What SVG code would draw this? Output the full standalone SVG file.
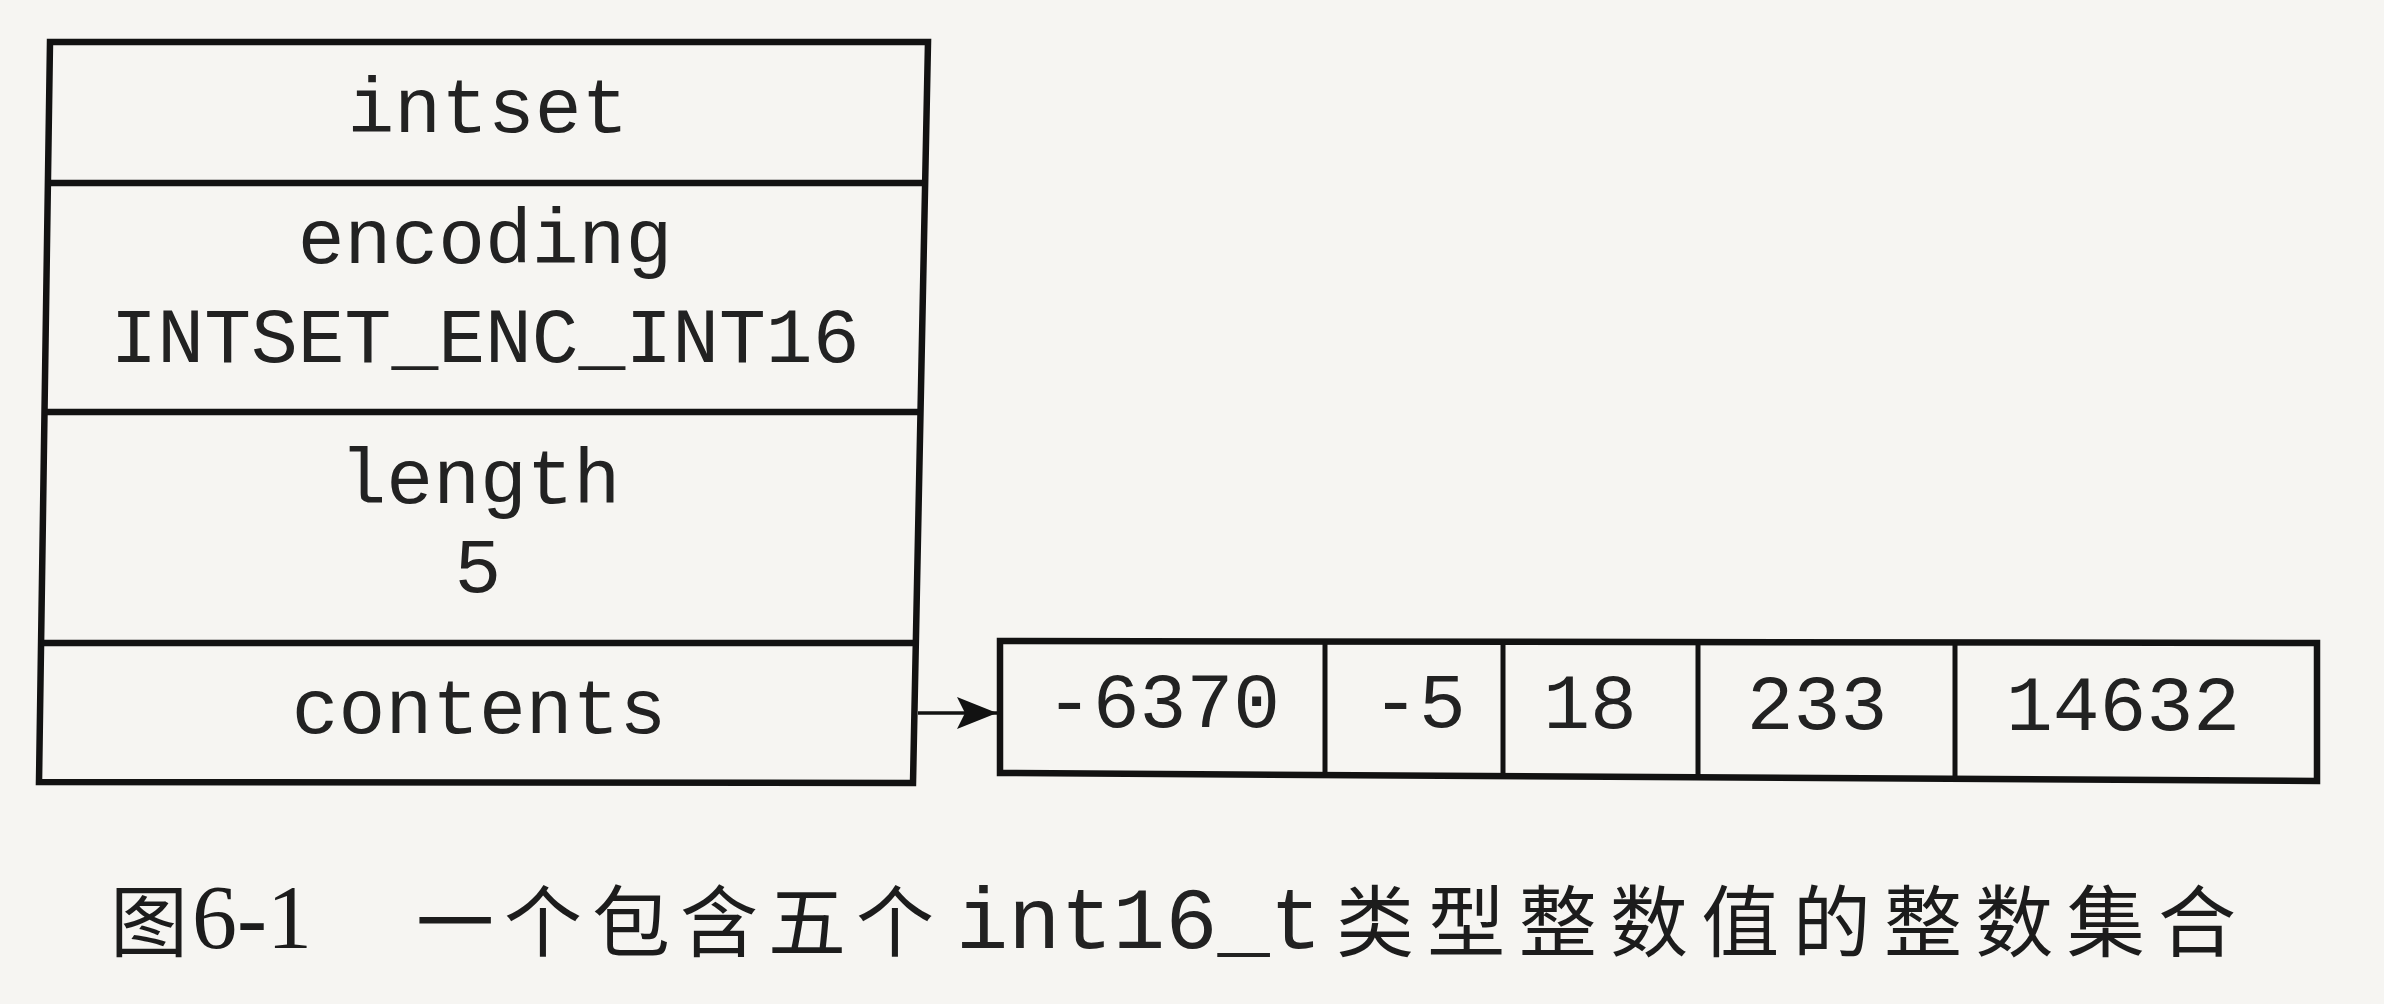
<svg xmlns="http://www.w3.org/2000/svg" width="2384" height="1004" viewBox="0 0 2384 1004">
  <style>
    .box { fill: none; stroke: #121212; stroke-width: 6.5; stroke-linejoin: miter; }
    .div { fill: none; stroke: #121212; stroke-width: 6.5; }
    .cell { fill: none; stroke: #121212; stroke-width: 5; }
    .mono { font-family: "Liberation Mono", "Courier New", monospace; font-size: 78px; fill: #222222; text-anchor: middle; }
    .cap { font-family: "Noto Sans CJK SC", "Noto Sans CJK JP", sans-serif; font-size: 78px; fill: #1c1c1c; }
    .capnum { font-family: "Liberation Serif", serif; font-size: 92px; fill: #1c1c1c; }
    .capmono { font-family: "Liberation Mono", monospace; font-size: 88px; fill: #222222; }
    .conn { stroke: #121212; stroke-width: 3.5; fill: none; }
  </style>
  <defs>
    <marker id="arrow" markerUnits="userSpaceOnUse" viewBox="0 0 40 32" refX="40" refY="16" markerWidth="40" markerHeight="32" orient="auto">
      <path d="M0,0 L40,16 L0,32 L8,16 Z" fill="#121212"/>
    </marker>
  </defs>
  <rect x="0" y="0" width="2384" height="1004" fill="#f6f5f2"/>

  <g id="intset">
    <path class="box" d="M50,42 L928,42 L913,783 L39,782 Z"/>
    <path class="div" d="M48,183 L925,183"/>
    <path class="div" d="M44.5,412 L920.5,412"/>
    <path class="div" d="M40.6,643 L915.8,643"/>
    <text class="mono" x="488" y="132">intset</text>
    <text class="mono" x="485" y="263">encoding</text>
    <text class="mono" x="485" y="362">INTSET_ENC_INT16</text>
    <text class="mono" x="480" y="503">length</text>
    <text class="mono" x="478" y="592">5</text>
    <text class="mono" x="479" y="733">contents</text>
  </g>

  <g id="contents-array">
    <path class="box" d="M1000,641 L2317,643 L2317,781 L1000,773 Z"/>
    <path class="cell" d="M1325,641.5 L1325,775"/>
    <path class="cell" d="M1503,642 L1503,776"/>
    <path class="cell" d="M1698,642 L1698,777"/>
    <path class="cell" d="M1955,642.5 L1955,779"/>
    <text class="mono" x="1163" y="727">-6370</text>
    <text class="mono" x="1419" y="727">-5</text>
    <text class="mono" x="1590" y="728">18</text>
    <text class="mono" x="1817" y="729">233</text>
    <text class="mono" x="2123" y="730">14632</text>
  </g>

  <g id="connectors">
    <line class="conn" x1="918" y1="713" x2="997" y2="713" marker-end="url(#arrow)"/>
  </g>

  <g id="caption">
    <text class="cap" x="110" y="951">图</text>
    <text class="capnum" x="192" y="948" textLength="120" lengthAdjust="spacingAndGlyphs">6-1</text>
    <text class="cap" x="416" y="951" textLength="518" lengthAdjust="spacing">一个包含五个</text>
    <text class="capmono" x="956" y="948" textLength="366" lengthAdjust="spacingAndGlyphs">int16_t</text>
    <text class="cap" x="1336" y="951" textLength="900" lengthAdjust="spacing">类型整数值的整数集合</text>
  </g>
</svg>
